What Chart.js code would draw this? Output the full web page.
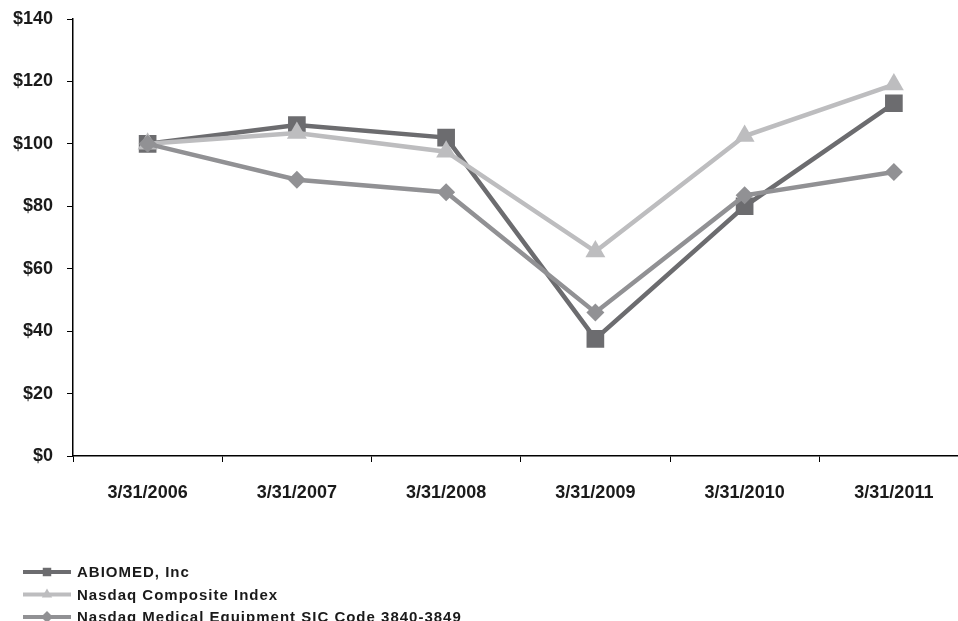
<!DOCTYPE html>
<html>
<head>
<meta charset="utf-8">
<script src="https://cdn.jsdelivr.net/npm/chart.js@4/dist/chart.umd.min.js"></script>
<style>
  html, body { margin: 0; padding: 0; background: #fff; overflow: hidden; }
  #grafico { position: absolute; left: 0; top: 0; }
</style>
</head>
<body>
<canvas id="grafico" width="981" height="621" style="width:981px;height:621px"></canvas>
<script>
// fechas y valores
const fechas = ['3/31/2006', '3/31/2007', '3/31/2008', '3/31/2009', '3/31/2010', '3/31/2011'];
const abiomed = [100, 106, 102, 37.5, 80, 113];
const nasdaqComp = [100, 103.5, 97.5, 65.5, 102.5, 119];
const nasdaqMed = [100, 88.5, 84.5, 46, 83.5, 91];
const ticksY = [0, 20, 40, 60, 80, 100, 120, 140];

const fuenteEje = { family: 'Liberation Sans, Arial, sans-serif', size: 18, weight: 'bold' };

// leyenda dibujada a mano abajo a la izquierda
const leyendaAbajo = {
    id: 'leyendaAbajo',
    afterDraw(chart) {
        const ctx = chart.ctx;
        ctx.save();
        ctx.font = 'bold 15px Liberation Sans, Arial, sans-serif';
        ctx.letterSpacing = '1px';
        ctx.textBaseline = 'middle';
        chart.data.datasets.forEach((ds, i) => {
            const y = 572 + i * 22.5;
            ctx.strokeStyle = ds.borderColor;
            ctx.lineWidth = 4;
            ctx.beginPath();
            ctx.moveTo(23, y);
            ctx.lineTo(71, y);
            ctx.stroke();
            ctx.fillStyle = ds.borderColor;
            Chart.helpers.drawPoint(ctx, { pointStyle: ds.pointStyle, radius: 6, borderWidth: 0 }, 47, y);
            ctx.fillStyle = '#1a1a1a';
            ctx.fillText(ds.label, 77, y + 1);
        });
        ctx.restore();
    }
};

new Chart(document.getElementById('grafico'), {
    type: 'line',
    data: {
        labels: fechas,
        datasets: [
            {
                label: 'ABIOMED, Inc',
                data: abiomed,
                borderColor: '#6c6c6f',
                backgroundColor: '#6c6c6f',
                borderWidth: 4.5,
                pointStyle: 'rect',
                pointRadius: 12.5,
                pointBorderWidth: 0,
                order: 3
            },
            {
                label: 'Nasdaq Composite Index',
                data: nasdaqComp,
                borderColor: '#bdbdbf',
                backgroundColor: '#bdbdbf',
                borderWidth: 4.5,
                pointStyle: 'triangle',
                pointRadius: 11.5,
                pointBorderWidth: 0,
                order: 2
            },
            {
                label: 'Nasdaq Medical Equipment SIC Code 3840-3849',
                data: nasdaqMed,
                borderColor: '#919194',
                backgroundColor: '#919194',
                borderWidth: 4.5,
                pointStyle: 'rectRot',
                pointRadius: 9,
                pointBorderWidth: 0,
                order: 1
            }
        ]
    },
    options: {
        responsive: false,
        animation: false,
        devicePixelRatio: 1,
        layout: { padding: { top: 19, right: 0, left: 0, bottom: 0 } },
        plugins: {
            legend: { display: false },
            tooltip: { enabled: false }
        },
        elements: { line: { tension: 0 } },
        scales: {
            x: {
                offset: true,
                grid: {
                    offset: true,
                    drawOnChartArea: false,
                    drawTicks: true,
                    tickLength: 6,
                    color: '#000',
                    lineWidth: 1
                },
                border: { color: '#000', width: 1.5 },
                ticks: { color: '#1a1a1a', font: fuenteEje, padding: 20, maxRotation: 0 },
                afterFit(scale) {
                    scale.height = 165;
                    scale.paddingLeft = 0;
                    scale.paddingRight = 0;
                }
            },
            y: {
                min: 0,
                max: 140,
                afterBuildTicks(scale) { scale.ticks = ticksY.map(v => ({ value: v })); },
                grid: {
                    drawOnChartArea: false,
                    drawTicks: true,
                    tickLength: 6,
                    color: '#000',
                    lineWidth: 1
                },
                border: { color: '#000', width: 1.5 },
                ticks: {
                    color: '#1a1a1a',
                    font: fuenteEje,
                    padding: 14,
                    callback: v => '$' + v
                },
                afterFit(scale) {
                    scale.width = 73;
                    scale.paddingTop = 0;
                    scale.paddingBottom = 0;
                }
            }
        }
    },
    plugins: [leyendaAbajo]
});
</script>
</body>
</html>
